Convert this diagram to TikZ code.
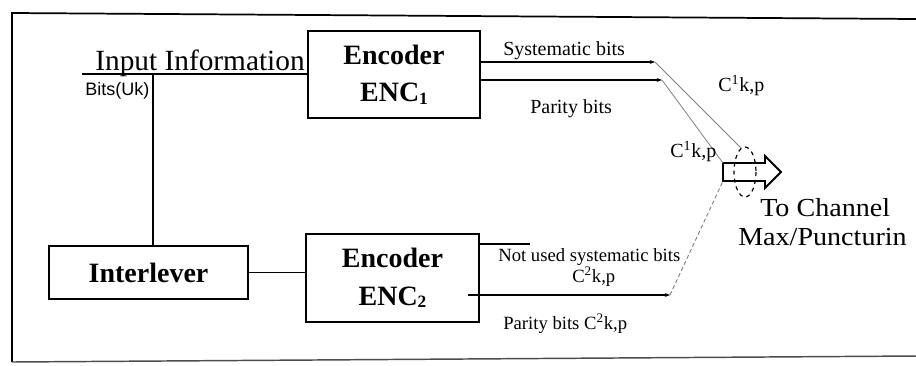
\documentclass[tikz,border=0pt]{standalone}
\usepackage{graphicx}
\usepackage{fontspec}
\setmainfont{Liberation Serif}
\newfontfamily\arialf{Liberation Sans}
\usetikzlibrary{arrows.meta}
\begin{document}
\begin{tikzpicture}[x=0.75pt,y=-0.75pt,
  blockbox/.style={draw, line width=1.5pt, font=\fontsize{21}{28}\selectfont\bfseries, align=center, inner sep=0pt},
  wire/.style={line width=1.2pt},
  thinwire/.style={gray, line width=0.6pt},
  dotwire/.style={gray, line width=0.7pt, densely dashed},
  smallarrow/.style={-{Stealth[length=4pt,width=3pt]}},
  lbl/.style={font=\fontsize{15}{18}\selectfont, inner sep=0pt},
  lbls/.style={font=\fontsize{14}{17}\selectfont, inner sep=0pt},
  biglbl/.style={inner sep=0pt}]
\useasboundingbox (0,0) rectangle (916,365);
% frame
\draw[line width=1.3pt] (916,19) -- (12,13) -- (12,362);
\draw[line width=1.1pt, black!70] (12,362) -- (916,356);

% blocks
\node[blockbox, minimum width=129pt, minimum height=65.25pt] (enc1) at (394,74.5) {Encoder\\ENC\raisebox{-2pt}{\fontsize{13}{13}\selectfont 1}};
\node[blockbox, minimum width=129.75pt, minimum height=66pt] (enc2) at (392.5,278) {Encoder\\ENC\raisebox{-2pt}{\fontsize{13}{13}\selectfont 2}};
\node[blockbox, minimum width=149.25pt, minimum height=39.75pt] (inter) at (148.5,272.5) {Interlever};

% input
\coordinate (in) at (82,74);
\coordinate (j) at (153,74);
\draw[wire] (in) -- (in -| enc1.west);
\draw[wire] (j) -- (j |- inter.north);
\draw[wire] (inter.east) -- (inter.east -| enc2.west);
\node[biglbl, font=\fontsize{22}{26}\selectfont, anchor=base] (inlbl) at (200,70) {Input Information};
\node[inner sep=0pt, anchor=base west, font=\arialf\fontsize{13.5}{15}\selectfont] (bits) at (85,95) {Bits(Uk)};

% ENC1 outputs
\coordinate (s1) at (655,62);
\coordinate (p1) at (662,80);
\draw[wire, smallarrow] (s1 -| enc1.east) -- (s1);
\draw[wire, smallarrow] (p1 -| enc1.east) -- (p1);
\node[lbl, anchor=base west] (syslbl) at (503,55) {Systematic bits};
\node[lbl, anchor=base west] (parlbl) at (530,113) {Parity bits};

% mux arrow
\coordinate (mbl) at (723,181);
\coordinate (mtl) at (723,163);
\coordinate (etop) at (741,148);
\draw[line width=1.4pt] (723,163) -- (765,163) -- (765,156) -- (781,172) -- (765,188) -- (765,181) -- (723,181) -- cycle;
\draw[dashed, line width=0.9pt] (745,172) ellipse [x radius=11, y radius=25];

% diagonals
\draw[thinwire] (s1) -- (etop);
\draw[thinwire] (p1) -- (mtl);
\node[lbl, anchor=base west] (c1a) at (718,91) {C\textsuperscript{1}k,p};
\node[lbl, anchor=base west] (c1b) at (670,157) {C\textsuperscript{1}k,p};

% ENC2 outputs
\coordinate (nu) at (530,244);
\coordinate (p2s) at (468,295);
\coordinate (p2) at (670,295);
\draw[wire] (nu -| enc2.east) -- (nu);
\draw[wire, smallarrow] (p2s) -- (p2);
\draw[dotwire] (p2) -- (mbl);
\node[lbls, anchor=base west] (nulbl) at (498,261) {Not used systematic bits};
\node[lbls, anchor=base west] (c2a) at (572,282) {C\textsuperscript{2}k,p};
\node[lbls, anchor=base west] (p2lbl) at (503,329) {Parity bits C\textsuperscript{2}k,p};

% channel text
\node[biglbl, font=\fontsize{19.5}{21.75}\selectfont, align=left, anchor=west] (tochan) at (738,222) {\hspace*{16.5pt}\scalebox{1.08}[1]{To Channel}\\\scalebox{1.08}[1]{Max/Puncturin}};
\end{tikzpicture}
\end{document}
